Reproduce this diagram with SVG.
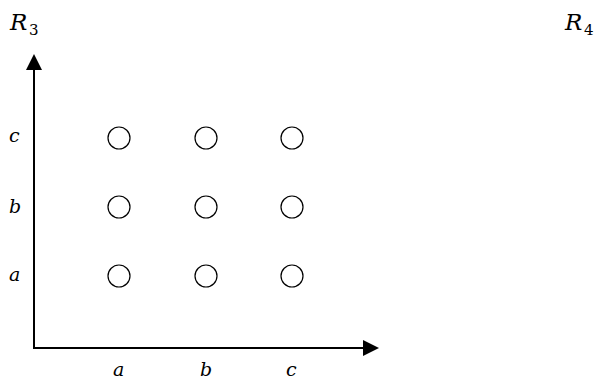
<svg xmlns="http://www.w3.org/2000/svg" width="600" height="381" viewBox="0 0 600 381">
<style>
.lbl{font-family:"DejaVu Serif",serif;font-style:italic;font-size:19px;fill:#000}
.big{font-family:"DejaVu Serif",serif;font-style:italic;font-size:23px;fill:#000}
.sub{font-family:"DejaVu Serif",serif;font-size:15px;fill:#000}
.node circle{fill:#fff;stroke:#000;stroke-width:1.2}
.axis{stroke:#000;stroke-width:2;fill:none}
</style>
<rect width="600" height="381" fill="#fff"/>
<g id="title-r3"><text x="10" y="30" class="big">R</text><text x="29" y="35" class="sub">3</text></g>
<g id="title-r4"><text x="565" y="30" class="big">R</text><text x="584" y="35" class="sub">4</text></g>
<g id="ylabels">
<text x="9" y="142" class="lbl">c</text>
<text x="9" y="213" class="lbl">b</text>
<text x="9" y="281" class="lbl">a</text>
</g>
<g id="xlabels">
<text x="113" y="376" class="lbl">a</text>
<text x="200" y="376" class="lbl">b</text>
<text x="286" y="376" class="lbl">c</text>
</g>
<g id="connectors">
<path class="axis" d="M34,348 L34,70"/>
<path d="M26,70 L34,54 L42,70 Z" fill="#000"/>
<path class="axis" d="M33,348 L363,348"/>
<path d="M363,340 L379,348 L363,356 Z" fill="#000"/>
</g>
<g id="n-ac" class="node"><circle cx="119" cy="138" r="11"/></g>
<g id="n-bc" class="node"><circle cx="206" cy="138" r="11"/></g>
<g id="n-cc" class="node"><circle cx="292" cy="138" r="11"/></g>
<g id="n-ab" class="node"><circle cx="119" cy="207" r="11"/></g>
<g id="n-bb" class="node"><circle cx="206" cy="207" r="11"/></g>
<g id="n-cb" class="node"><circle cx="292" cy="207" r="11"/></g>
<g id="n-aa" class="node"><circle cx="119" cy="276" r="11"/></g>
<g id="n-ba" class="node"><circle cx="206" cy="276" r="11"/></g>
<g id="n-ca" class="node"><circle cx="292" cy="276" r="11"/></g>
</svg>
